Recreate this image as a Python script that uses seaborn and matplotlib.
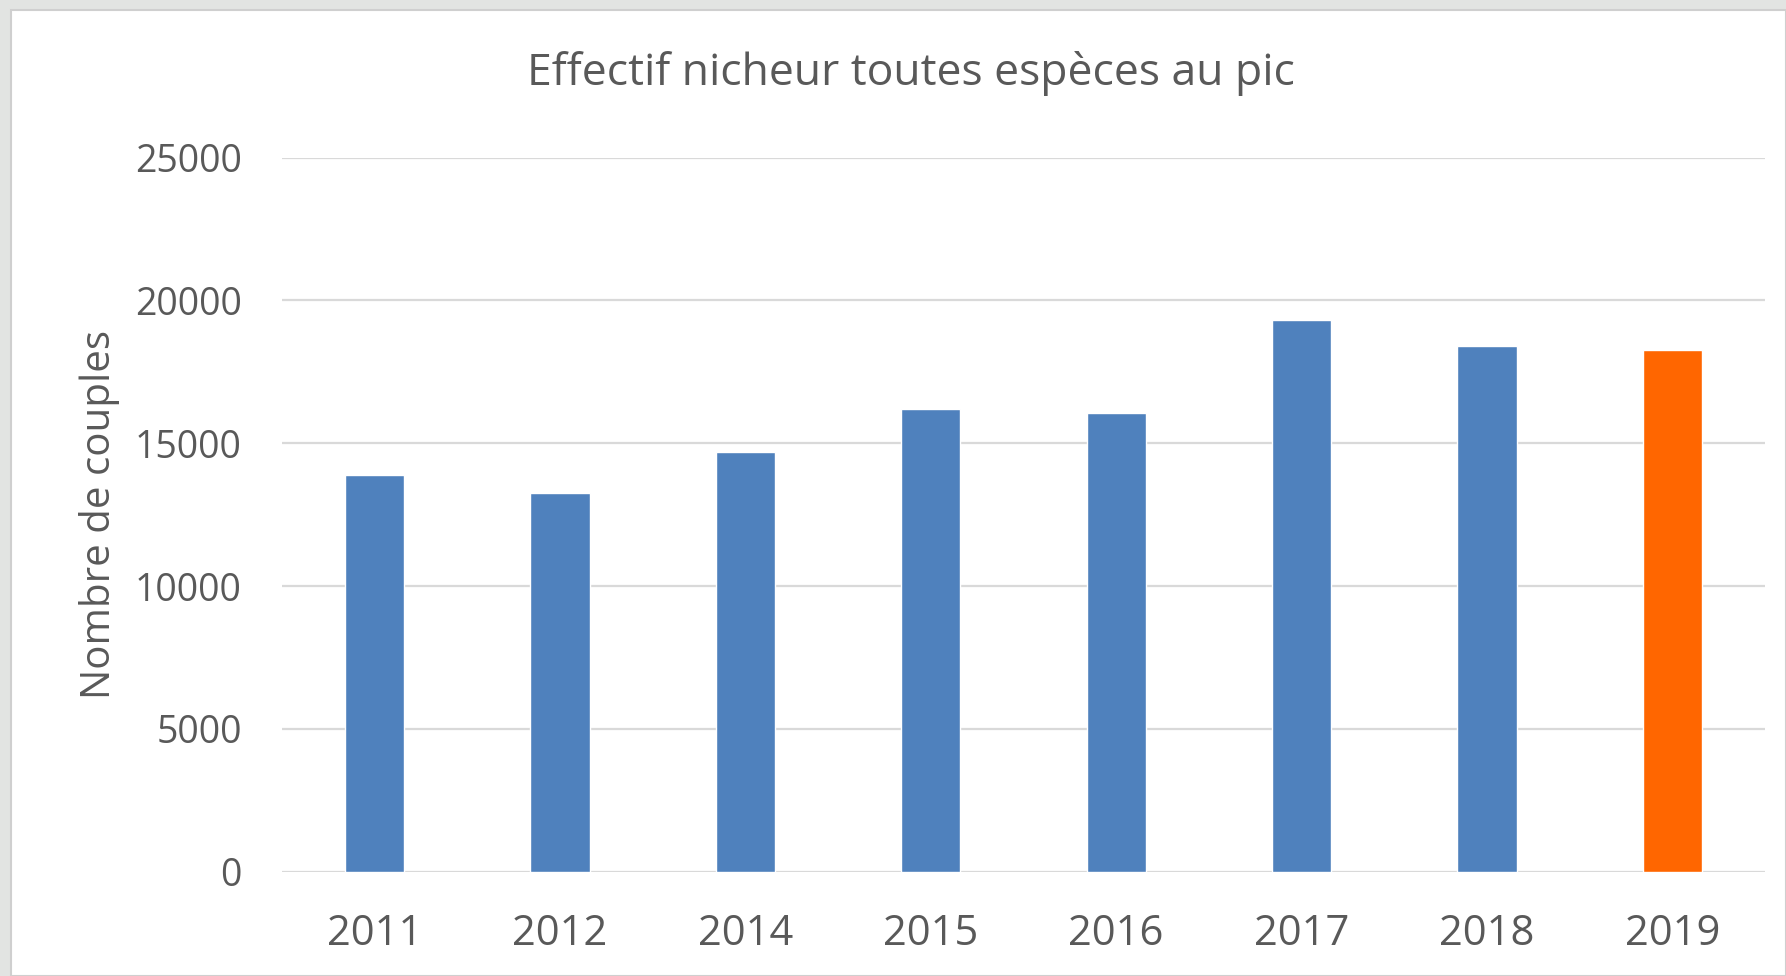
import matplotlib
matplotlib.use('Agg')
import matplotlib.pyplot as plt
import seaborn as sns
import pandas as pd
from matplotlib.patches import Rectangle

# data
years = ['2011', '2012', '2014', '2015', '2016', '2017', '2018', '2019']
couples = [13900, 13270, 14690, 16200, 16050, 19330, 18420, 18270]
bar_colors = ['#4F81BD'] * 7 + ['#FF6600']

title = 'Effectif nicheur toutes espèces au pic'
ylabel = 'Nombre de couples'
yticks = [0, 5000, 10000, 15000, 20000, 25000]

sns.set_style('white')
plt.rcParams['font.family'] = ['Open Sans', 'DejaVu Sans']
text_color = '#595959'

df = pd.DataFrame({'year': years, 'couples': couples})

fig = plt.figure(figsize=(17.86, 9.76), dpi=100)
fig.patch.set_facecolor('#e2e4e2')

# white chart panel over the textured background
fig.patches.append(Rectangle((11 / 1786, 0), 1 - 11 / 1786, 1 - 10 / 976,
                             transform=fig.transFigure, facecolor='white',
                             edgecolor='#cfcfcf', linewidth=1.5, zorder=-10))

ax = fig.add_axes([282 / 1786, 104.3 / 976, 1483 / 1786, 714 / 976])
ax.set_facecolor('none')

sns.barplot(data=df, x='year', y='couples', hue='year', palette=bar_colors,
            legend=False, width=0.32, saturation=1, ax=ax)

ax.set_ylim(0, 25000)
ax.set_yticks(yticks)
ax.set_yticklabels([str(t) for t in yticks])
ax.yaxis.grid(True, color='#d9d9d9', linewidth=1.6)
ax.set_axisbelow(True)
for s in ax.spines.values():
    s.set_visible(False)

ax.tick_params(axis='y', length=0, pad=29, labelsize=27, labelcolor=text_color)
ax.tick_params(axis='x', length=0, pad=30, labelsize=30, labelcolor=text_color)

ax.set_xlabel('')
ax.set_ylabel(ylabel, fontsize=29, color=text_color, labelpad=0)
ax.yaxis.set_label_coords(-162 / 1483, 0.5)

fig.text(911 / 1786, 1 - 74 / 976, title, ha='center', va='center',
         fontsize=32, color=text_color)

fig.savefig('out.png', dpi=100, facecolor=fig.get_facecolor())
